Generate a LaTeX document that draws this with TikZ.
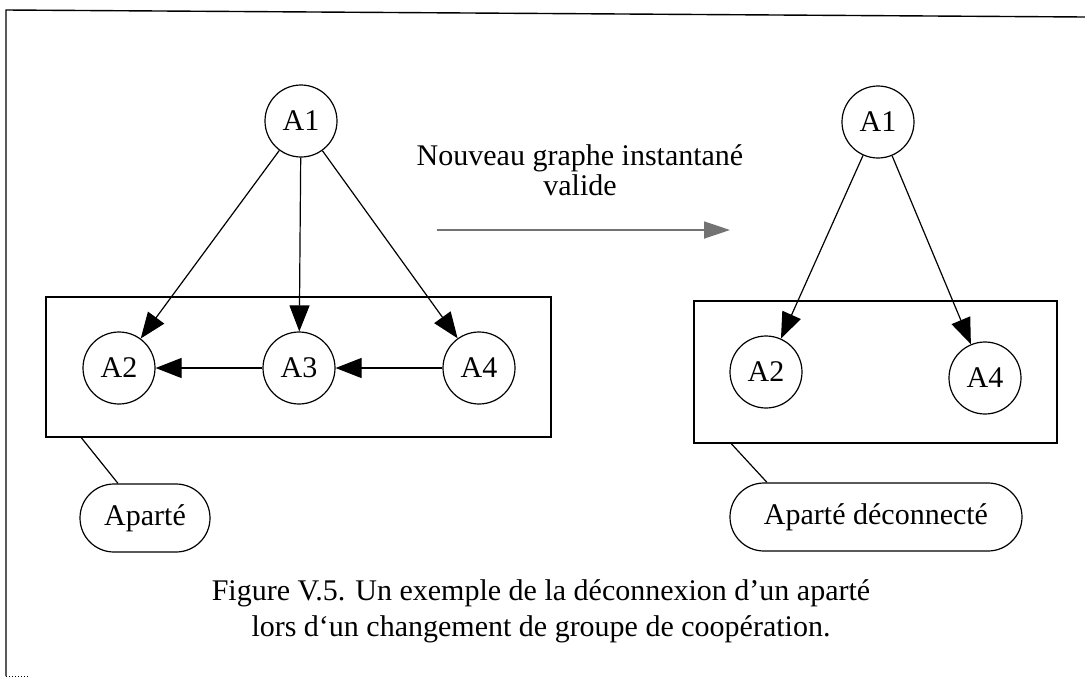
\documentclass[tikz,border=0pt]{standalone}
\usepackage{fontspec}
\setmainfont{Liberation Serif}
\usetikzlibrary{arrows.meta,shapes.misc}
\begin{document}
\begin{tikzpicture}[x=1pt,y=-1pt,
  every node/.style={font=\fontsize{30}{32}\selectfont},
  agent/.style={draw, circle, minimum size=72pt, inner sep=0pt, line width=1.2pt},
  grp/.style={draw, rectangle, line width=1.4pt, inner sep=0pt},
  lbl/.style={draw, rounded rectangle, line width=1.2pt, inner sep=0pt},
  link/.style={line width=1.2pt, -{Triangle[length=26pt,width=20pt]}},
  tie/.style={line width=1.2pt},
  frameline/.style={line width=1.4pt},
  grayarrow/.style={black!55, line width=1.8pt, dash pattern=on 1.5pt off 0.5pt, -{Triangle[length=26pt,width=17pt]}},
]
\useasboundingbox (0,0) rectangle (1085,678);
% frame
\coordinate (ftr) at (1085,17);
\coordinate (ftl) at (6,10);
\coordinate (fbl) at (6,676);
\coordinate (fbe) at (30,676);
\draw[frameline] (ftr) -- (ftl) -- (fbl);
\draw[dotted, line width=1pt] (fbl) -- (fbe);
% left graph
\node[grp, minimum width=505pt, minimum height=140pt] (lbox) at (298.5,367) {};
\node[agent] (l1) at (301,121) {A1};
\node[agent] (l2) at (119,368) {A2};
\node[agent] (l3) at (299,368) {A3};
\node[agent] (l4) at (479,368) {A4};
\draw[link] (l1) -- (l2);
\draw[link] (l1) -- (l3);
\draw[link] (l1) -- (l4);
\draw[link] (l3) -- (l2);
\draw[link] (l4) -- (l3);
\node[lbl, minimum width=130pt, minimum height=68pt] (lap) at (145,518) {Aparté};
\draw[tie] ([xshift=36pt]lbox.south west) -- ([xshift=-27pt]lap.north);
% right graph
\node[grp, minimum width=363pt, minimum height=142pt] (rbox) at (875.5,372) {};
\node[agent] (r1) at (878,122) {A1};
\node[agent] (r2) at (766,372) {A2};
\node[agent] (r4) at (985,378) {A4};
\draw[link] (r1) -- (r2);
\draw[link] (r1) -- (r4);
\node[lbl, minimum width=292pt, minimum height=68pt] (rap) at (876,517) {Aparté déconnecté};
\draw[tie] ([xshift=38pt]rbox.south west) -- ([xshift=-109pt]rap.north);
% middle
\node[align=center, font=\fontsize{30}{30}\selectfont] (txt) at (580,170) {Nouveau graphe instantané\\valide};
\coordinate (gs) at (437,230);
\coordinate (ge) at (730,230);
\draw[grayarrow] (gs) -- (ge);
% caption
\node[align=center, font=\fontsize{30}{36}\selectfont] (cap) at (541,611) {Figure V.5. Un exemple de la déconnexion d’un aparté\\lors d‘un changement de groupe de coopération.};
\end{tikzpicture}
\end{document}
